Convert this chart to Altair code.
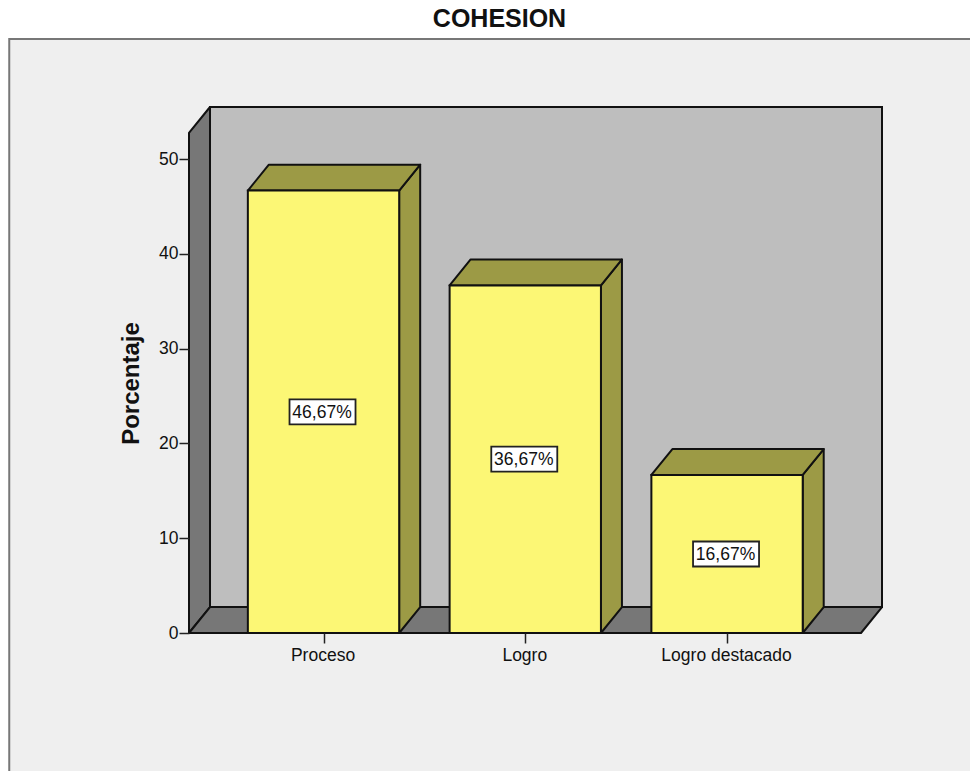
import json
import altair as alt
import pandas as pd

categories = ["Proceso", "Logro", "Logro destacado"]
values = [46.67, 36.67, 16.67]
labels = ["46,67%", "36,67%", "16,67%"]
y_ticks = [0, 10, 20, 30, 40, 50]

FONT = "Liberation Sans"
half = 0.375        # half bar width, in category units
dx = 0.1041         # 3-D depth along x, in category units
dy = 2.74           # 3-D depth along y, in percent units
x_dom = [0.3333, 3.768]
y_dom = [0.0, 55.49]
y_front_top = y_dom[1] - dy
x_front_right = x_dom[1] - dx
panel_x = [-0.5576, 5.0]
panel_y = [-20.0, 62.66]

label_expr = "%s[datum.value - 1]" % json.dumps(categories)
x_axis = alt.Axis(
    values=[1, 2, 3], labelExpr=label_expr, title=None, grid=False, domain=False, zindex=1,
    tickSize=10, tickColor="#222222", tickWidth=1.5, labelFont=FONT, labelFontSize=17.5,
    labelColor="#111111", labelPadding=3, labelOverlap=False, labelFlush=False, labelOffset=-1,
)
y_axis = alt.Axis(
    values=y_ticks, title="Porcentaje", grid=False, domain=False, zindex=1,
    tickSize=10, tickColor="#222222", tickWidth=1.5, labelFont=FONT, labelFontSize=17.5,
    labelColor="#111111", labelPadding=1, labelOverlap=False, labelFlush=False,
    titleFont=FONT, titleFontSize=24, titleFontWeight="bold", titleColor="#111111",
    titleX=-46, titleY=276,
)
x_enc = alt.X("x:Q", scale=alt.Scale(domain=x_dom, nice=False, zero=False), axis=x_axis)
y_enc = alt.Y("y:Q", scale=alt.Scale(domain=y_dom, nice=False, zero=False), axis=y_axis)


def rect_layer(rows, fill, stroke, sw):
    return alt.Chart(pd.DataFrame(rows)).mark_rect(fill=fill, stroke=stroke, strokeWidth=sw).encode(
        x=x_enc, x2="x2:Q", y=y_enc, y2="y2:Q"
    )


def area_layer(rows, fill):
    return alt.Chart(pd.DataFrame(rows)).mark_area(
        fill=fill, stroke="#111111", strokeWidth=2, strokeJoin="round"
    ).encode(x=x_enc, y=y_enc, y2="y2:Q", detail="g:N")


# Panel and walls
panel = rect_layer([dict(x=panel_x[0], x2=panel_x[1], y=panel_y[0], y2=panel_y[1])], "#efefef", "#777777", 2)
back = rect_layer([dict(x=x_dom[0] + dx, x2=x_dom[1], y=dy, y2=y_dom[1])], "#bebebe", "#111111", 2)
left = area_layer(
    [dict(g="l", x=x_dom[0], y=0, y2=y_front_top), dict(g="l", x=x_dom[0] + dx, y=dy, y2=y_dom[1])],
    "#777777",
)
floor = area_layer(
    [
        dict(g="f", x=x_dom[0], y=0, y2=0),
        dict(g="f", x=x_dom[0] + dx, y=0, y2=dy),
        dict(g="f", x=x_front_right, y=0, y2=dy),
        dict(g="f", x=x_dom[1], y=dy, y2=dy),
    ],
    "#777777",
)

# Bars
side_rows, top_rows, front_rows = [], [], []
for i, v in enumerate(values):
    c = i + 1
    l, r = c - half, c + half
    side_rows += [dict(g=i, x=r, y=0, y2=v), dict(g=i, x=r + dx, y=dy, y2=v + dy)]
    top_rows += [
        dict(g=i, x=l, y=v, y2=v),
        dict(g=i, x=l + dx, y=v, y2=v + dy),
        dict(g=i, x=r, y=v, y2=v + dy),
        dict(g=i, x=r + dx, y=v + dy, y2=v + dy),
    ]
    front_rows.append(dict(x=l, x2=r, y=0, y2=v))

side = area_layer(side_rows, "#9c9a45")
top = area_layer(top_rows, "#9c9a45")
front = rect_layer(front_rows, "#fcf775", "#111111", 2)

# Value labels
lab_df = pd.DataFrame({"x": [i + 1 for i in range(3)], "y": [v / 2 for v in values], "t": labels})
boxes = alt.Chart(lab_df).mark_rect(width=66, height=25, fill="white", stroke="#222222", strokeWidth=1.8, xOffset=-1).encode(
    x=x_enc, y=y_enc
)
texts = alt.Chart(lab_df).mark_text(font=FONT, fontSize=17.5, color="#111111", baseline="middle", dx=-1.5, dy=1).encode(
    x=x_enc, y=y_enc, text="t:N"
)

chart = alt.layer(panel, back, left, floor, side, top, front, boxes, texts).properties(
    width=693,
    height=526,
    padding={"left": 181, "top": 99, "right": 88, "bottom": 138},
    autosize=alt.AutoSizeParams(type="none"),
    title=alt.TitleParams(
        "COHESION", anchor="middle", dx=-36, offset=6, font=FONT, fontSize=25,
        fontWeight="bold", color="#111111",
    ),
).configure(background="white").configure_view(stroke=None)

chart.save("out.html", embed_options={"renderer": "svg", "actions": False})
